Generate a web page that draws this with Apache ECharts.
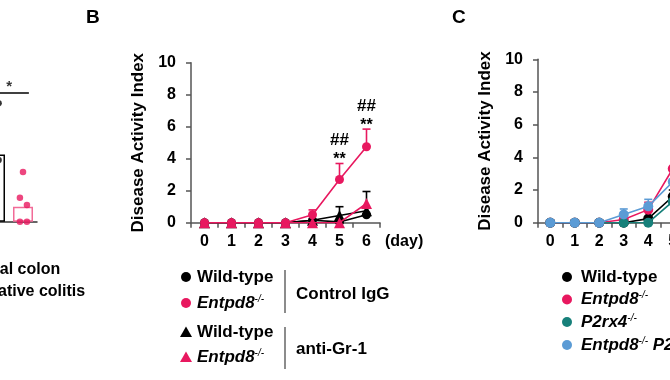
<!DOCTYPE html>
<html><head><meta charset="utf-8">
<script src="https://cdn.jsdelivr.net/npm/echarts@6/dist/echarts.min.js"></script>
<style>html,body{margin:0;padding:0;background:#fff}#c{width:670px;height:380px}</style>
</head><body><div id="c"></div>
<script>
// ---------- Panel A (cropped) ----------
const aGroups = ['Normal colon', 'Ulcerative colitis'];
const aMeans = [4.2, 0.93];
const aNormalDotsX = [0.13, 0.13];
const aNormalDots = [7.4, 3.85];
const aUCDotsX = [1.0, 0.89, 1.14, 0.89, 1.14];
const aUCDots = [3.1, 1.5, 1.05, 0, 0];
const aSigLevel = 8.05;
const aSigSpan = [-0.2, 1.21];
const aSigText = '*';
// ---------- Panel B ----------
const days = ['0', '1', '2', '3', '4', '5', '6'];
const dayUnit = '(day)';
const yTicks = [0, 10, 2];
const yName = 'Disease Activity Index';
const bWtIgG = [0, 0, 0, 0, 0.15, 0.05, 0.5];
const bWtIgGErr = [0, 0, 0, 0, 0, 0, 0];
const bKoIgG = [0, 0, 0, 0, 0.5, 2.7, 4.75];
const bKoIgGErr = [0, 0, 0, 0, 0.3, 1.0, 1.1];
const bWtGr1 = [0, 0, 0, 0, 0.15, 0.45, 0.75];
const bWtGr1Err = [0, 0, 0, 0, 0, 0.55, 1.2];
const bKoGr1 = [0, 0, 0, 0, 0, 0, 1.2];
const bKoGr1Err = [0, 0, 0, 0, 0, 0, 0];
const bStars = ['', '', '', '', '', '**', '**'];
const bHashes = ['', '', '', '', '', '##', '##'];
const bGroupLabels = ['Control IgG', 'anti-Gr-1'];
// ---------- Panel C (cropped) ----------
const cWt = [0, 0, 0, 0, 0.25, 1.6];
const cWtErr = [0, 0, 0, 0, 0, 0.4];
const cKo = [0, 0, 0, 0.2, 0.8, 3.3];
const cKoErr = [0, 0, 0, 0, 0.45, 0];
const cP2 = [0, 0, 0, 0, 0, 1.3];
const cP2Err = [0, 0, 0, 0, 0, 0];
const cDko = [0, 0, 0, 0.5, 1.0, 2.5];
const cDkoErr = [0, 0, 0, 0.34, 0.43, 0];

const FONT = 'Liberation Sans, Arial, sans-serif';
const PINK = '#e8185f', PINK_LIGHT = '#f26b98', BLACK = '#000000', TEAL = '#17807a', BLUE = '#5b9bd5', AXIS = '#555555';

function errData(means, errs, color) {
  const out = [];
  means.forEach((m, i) => { if (errs[i] > 0) out.push({ value: [i, m, m + errs[i]], color }); });
  return out;
}
function errSeries(xi, yi, items) {
  return {
    type: 'custom', xAxisIndex: xi, yAxisIndex: yi, z: 1,
    encode: { x: 0, y: [1, 2] },
    data: items.map(d => d.value),
    renderItem: function (params, api) {
      const color = items[params.dataIndex].color;
      const p0 = api.coord([api.value(0), api.value(1)]);
      const p1 = api.coord([api.value(0), api.value(2)]);
      return { type: 'group', children: [
        { type: 'line', shape: { x1: p0[0], y1: p0[1], x2: p1[0], y2: p1[1] }, style: { stroke: color, lineWidth: 1.6 } },
        { type: 'line', shape: { x1: p1[0] - 4, y1: p1[1], x2: p1[0] + 4, y2: p1[1] }, style: { stroke: color, lineWidth: 1.6 } }
      ] };
    }
  };
}
function lineSeries(xi, yi, data, color, symbol, size, z) {
  return { type: 'line', xAxisIndex: xi, yAxisIndex: yi, data, symbol, symbolSize: size, z,
    itemStyle: { color }, lineStyle: { color, width: 1.6 }, emphasis: { disabled: true }, animation: false };
}

const bErrItems = [].concat(
  errData(bWtIgG, bWtIgGErr, BLACK), errData(bWtGr1, bWtGr1Err, BLACK),
  errData(bKoIgG, bKoIgGErr, PINK), errData(bKoGr1, bKoGr1Err, PINK));
const cErrItems = [].concat(
  errData(cWt, cWtErr, BLACK), errData(cKo, cKoErr, PINK),
  errData(cP2, cP2Err, TEAL), errData(cDko, cDkoErr, BLUE));

const annItems = [];
days.forEach((d, i) => {
  if (bStars[i] || bHashes[i]) annItems.push([i, bKoIgG[i] + bKoIgGErr[i]]);
});

function catX() {
  return { type: 'category', gridIndex: 0, data: days, boundaryGap: true,
    axisLine: { lineStyle: { color: AXIS, width: 1.5 } },
    axisTick: { show: true, length: 5, lineStyle: { color: AXIS, width: 1.5 } },
    axisLabel: { color: '#000', fontWeight: 'bold', fontSize: 16, fontFamily: FONT, margin: 11 },
    name: dayUnit, nameLocation: 'end', nameGap: 5,
    nameTextStyle: { color: '#000', fontWeight: 'bold', fontSize: 16, fontFamily: FONT, verticalAlign: 'top', padding: [11, 0, 0, 0] } };
}
function valY() {
  return { type: 'value', min: yTicks[0], max: yTicks[1], interval: yTicks[2],
    axisLine: { show: true, lineStyle: { color: AXIS, width: 1.5 } },
    axisTick: { show: true, length: 5, lineStyle: { color: AXIS, width: 1.5 } },
    splitLine: { show: false },
    axisLabel: { color: '#000', fontWeight: 'bold', fontSize: 16, fontFamily: FONT, margin: 15 },
    name: yName, nameLocation: 'middle', nameGap: 44,
    nameTextStyle: { color: '#000', fontWeight: 'bold', fontSize: 17, fontFamily: FONT } };
}

const xB = catX(); xB.gridIndex = 1;
const xC = catX(); xC.gridIndex = 2;
const yB = valY(); yB.gridIndex = 1;
const yC = valY(); yC.gridIndex = 2;

const supRich = {
  b: { fontWeight: 'bold', fontSize: 17, fontFamily: FONT, color: '#000', lineHeight: 18 },
  i: { fontWeight: 'bold', fontStyle: 'italic', fontSize: 17, fontFamily: FONT, color: '#000', lineHeight: 18 },
  s: { fontStyle: 'italic', fontSize: 10, fontFamily: FONT, color: '#000', verticalAlign: 'top', lineHeight: 10 }
};
function legText(x, y, txt) {
  return { type: 'text', x, y, style: { text: txt, rich: supRich, verticalAlign: 'middle', align: 'left' } };
}
function circ(x, y, color) { return { type: 'circle', shape: { cx: x, cy: y, r: 5 }, style: { fill: color } }; }
function tri(x, y, color) {
  return { type: 'polygon', shape: { points: [[x, y - 5.5], [x + 6, y + 5], [x - 6, y + 5]] }, style: { fill: color } };
}

const bLegY = [277, 303, 332, 357];
const cLegY = [277, 299.5, 322, 345];
const graphic = [
  { type: 'text', x: 86, y: 8, style: { text: 'B', fontSize: 19, fontWeight: 'bold', fontFamily: FONT, fill: '#000' } },
  { type: 'text', x: 452, y: 8, style: { text: 'C', fontSize: 19, fontWeight: 'bold', fontFamily: FONT, fill: '#000' } },
  { type: 'text', x: -42, y: 259, style: { text: aGroups.join('\n'), fontSize: 16, fontWeight: 'bold', fontFamily: FONT, fill: '#000', lineHeight: 22 } },
  circ(186, bLegY[0], BLACK), legText(197, bLegY[0], '{b|Wild-type}'),
  circ(186, bLegY[1], PINK), legText(197, bLegY[1], '{i|Entpd8}{s|-/-}'),
  tri(186, bLegY[2], BLACK), legText(197, bLegY[2], '{b|Wild-type}'),
  tri(186, bLegY[3], PINK), legText(197, bLegY[3], '{i|Entpd8}{s|-/-}'),
  { type: 'line', shape: { x1: 285, y1: 270, x2: 285, y2: 313 }, style: { stroke: '#666', lineWidth: 1.5 } },
  { type: 'line', shape: { x1: 285, y1: 327, x2: 285, y2: 369 }, style: { stroke: '#666', lineWidth: 1.5 } },
  legText(296, 294, '{b|' + bGroupLabels[0] + '}'),
  legText(296, 349, '{b|' + bGroupLabels[1] + '}'),
  circ(567, cLegY[0], BLACK), legText(581, cLegY[0], '{b|Wild-type}'),
  circ(567, cLegY[1], PINK), legText(581, cLegY[1], '{i|Entpd8}{s|-/-}'),
  circ(567, cLegY[2], TEAL), legText(581, cLegY[2], '{i|P2rx4}{s|-/-}'),
  circ(567, cLegY[3], BLUE), legText(581, cLegY[3], '{i|Entpd8}{s|-/-}{i| P2rx4}{s|-/-}')
];

const option = {
  animation: false,
  backgroundColor: '#fff',
  textStyle: { fontFamily: FONT },
  grid: [
    { left: -19, top: 61.7, width: 56, height: 160, outerBoundsMode: 'none', containLabel: false },
    { left: 191, top: 62.7, width: 189, height: 160, outerBoundsMode: 'none', containLabel: false },
    { left: 538, top: 59.3, width: 171.5, height: 163.4, outerBoundsMode: 'none', containLabel: false }
  ],
  xAxis: [
    { type: 'value', gridIndex: 0, min: -0.5, max: 1.5, axisLine: { show: true, onZero: false, lineStyle: { color: '#333', width: 1.5 } },
      axisTick: { show: false }, axisLabel: { show: false }, splitLine: { show: false } },
    xB, xC
  ],
  yAxis: [
    { type: 'value', gridIndex: 0, min: 0, max: 10, show: false, splitLine: { show: false } },
    yB, yC
  ],
  graphic,
  series: [
    { type: 'bar', xAxisIndex: 0, yAxisIndex: 0, barWidth: 20, silent: true,
      data: aMeans.map((v, i) => ({ value: [i, v], itemStyle: { color: '#fff', borderColor: i === 0 ? BLACK : PINK_LIGHT, borderWidth: 1.5 } })) },
    { type: 'scatter', xAxisIndex: 0, yAxisIndex: 0, symbolSize: 6.5, itemStyle: { color: BLACK },
      data: aNormalDots.map((v, i) => [aNormalDotsX[i], v]) },
    { type: 'scatter', xAxisIndex: 0, yAxisIndex: 0, symbolSize: 6.5, itemStyle: { color: PINK },
      data: aUCDots.map((v, i) => [aUCDotsX[i], v]) },
    { type: 'line', xAxisIndex: 0, yAxisIndex: 0, symbol: 'none', lineStyle: { color: '#000', width: 1.5 },
      data: [[aSigSpan[0], aSigLevel], [aSigSpan[1], aSigLevel]] },
    { type: 'scatter', xAxisIndex: 0, yAxisIndex: 0, symbolSize: 0,
      data: [[(aSigSpan[0] + aSigSpan[1]) / 2, aSigLevel]],
      label: { show: true, position: 'top', distance: -1, formatter: aSigText, color: '#000', fontSize: 15, fontWeight: 'bold', fontFamily: FONT } },
    errSeries(1, 1, bErrItems),
    lineSeries(1, 1, bWtIgG, BLACK, 'circle', 9, 2),
    lineSeries(1, 1, bWtGr1, BLACK, 'triangle', 11, 3),
    lineSeries(1, 1, bKoIgG, PINK, 'circle', 9, 4),
    lineSeries(1, 1, bKoGr1, PINK, 'triangle', 11, 5),
    { type: 'custom', xAxisIndex: 1, yAxisIndex: 1, z: 6, data: annItems,
      renderItem: function (params, api) {
        const i = api.value(0);
        const p = api.coord([i, api.value(1)]);
        return { type: 'group', children: [
          { type: 'text', x: p[0], y: p[1] - 4, style: { text: bStars[i], align: 'center', verticalAlign: 'middle', fontSize: 16, fontWeight: 'bold', fontFamily: FONT, fill: '#000' } },
          { type: 'text', x: p[0], y: p[1] - 23, style: { text: bHashes[i], align: 'center', verticalAlign: 'middle', fontSize: 17, fontWeight: 'bold', fontFamily: FONT, fill: '#000' } }
        ] };
      } },
    errSeries(2, 2, cErrItems),
    lineSeries(2, 2, cWt, BLACK, 'circle', 10, 2),
    lineSeries(2, 2, cKo, PINK, 'circle', 10, 3),
    lineSeries(2, 2, cP2, TEAL, 'circle', 10, 4),
    lineSeries(2, 2, cDko, BLUE, 'circle', 10, 5)
  ]
};
const chart = echarts.init(document.getElementById('c'), null, { renderer: 'canvas' });
chart.setOption(option);
</script>
</body></html>
